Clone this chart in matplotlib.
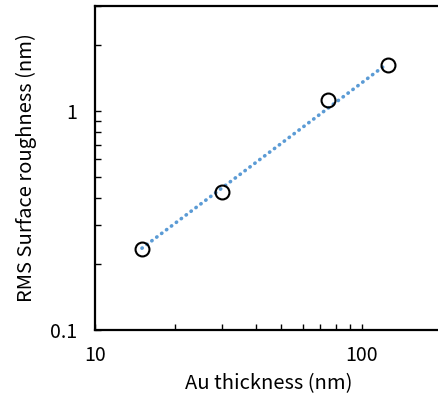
import numpy as np
import matplotlib.pyplot as plt
from matplotlib.ticker import LogLocator, FixedLocator, FixedFormatter, NullFormatter

plt.rcParams['font.family'] = ['Noto Sans CJK JP', 'DejaVu Sans']

# measured data
thickness = [15, 30, 75, 125]
roughness = [0.235, 0.425, 1.12, 1.62]

# power-law trendline ends
fit_x = [15, 124]
fit_y = [0.236, 1.63]

fig = plt.figure(figsize=(4.38, 3.97), dpi=100)
ax = fig.add_axes([95/438, 67/397, (442-95)/438, (330-6)/397])

ax.plot(fit_x, fit_y, color='#5B9BD5', lw=2.6, linestyle=(0, (0.1, 1.6)),
        dash_capstyle='round', zorder=2)
ax.plot(thickness, roughness, 'o', ms=10, mfc='none', mec='black', mew=1.5, zorder=3)

ax.set_xscale('log')
ax.set_yscale('log')
ax.set_xlim(10, 200)
ax.set_ylim(0.1, 3)

ax.xaxis.set_major_locator(FixedLocator([10, 100]))
ax.xaxis.set_major_formatter(FixedFormatter(['10', '100']))
ax.yaxis.set_major_locator(FixedLocator([0.1, 1]))
ax.yaxis.set_major_formatter(FixedFormatter(['0.1', '1']))
ax.xaxis.set_minor_locator(LogLocator(base=10, subs=np.arange(2, 10)))
ax.yaxis.set_minor_locator(LogLocator(base=10, subs=np.arange(2, 10)))
ax.xaxis.set_minor_formatter(NullFormatter())
ax.yaxis.set_minor_formatter(NullFormatter())

for s in ax.spines.values():
    s.set_linewidth(1.6)
ax.spines['right'].set_visible(False)
ax.tick_params(which='both', direction='in', length=4, width=1, labelsize=14)
ax.tick_params(axis='x', pad=11)
ax.tick_params(axis='y', pad=13)

ax.set_xlabel('Au thickness (nm)', fontsize=14.5, labelpad=5)
ax.set_ylabel('RMS Surface roughness (nm)', fontsize=14.5, labelpad=9)

fig.savefig('out.png', dpi=100)
